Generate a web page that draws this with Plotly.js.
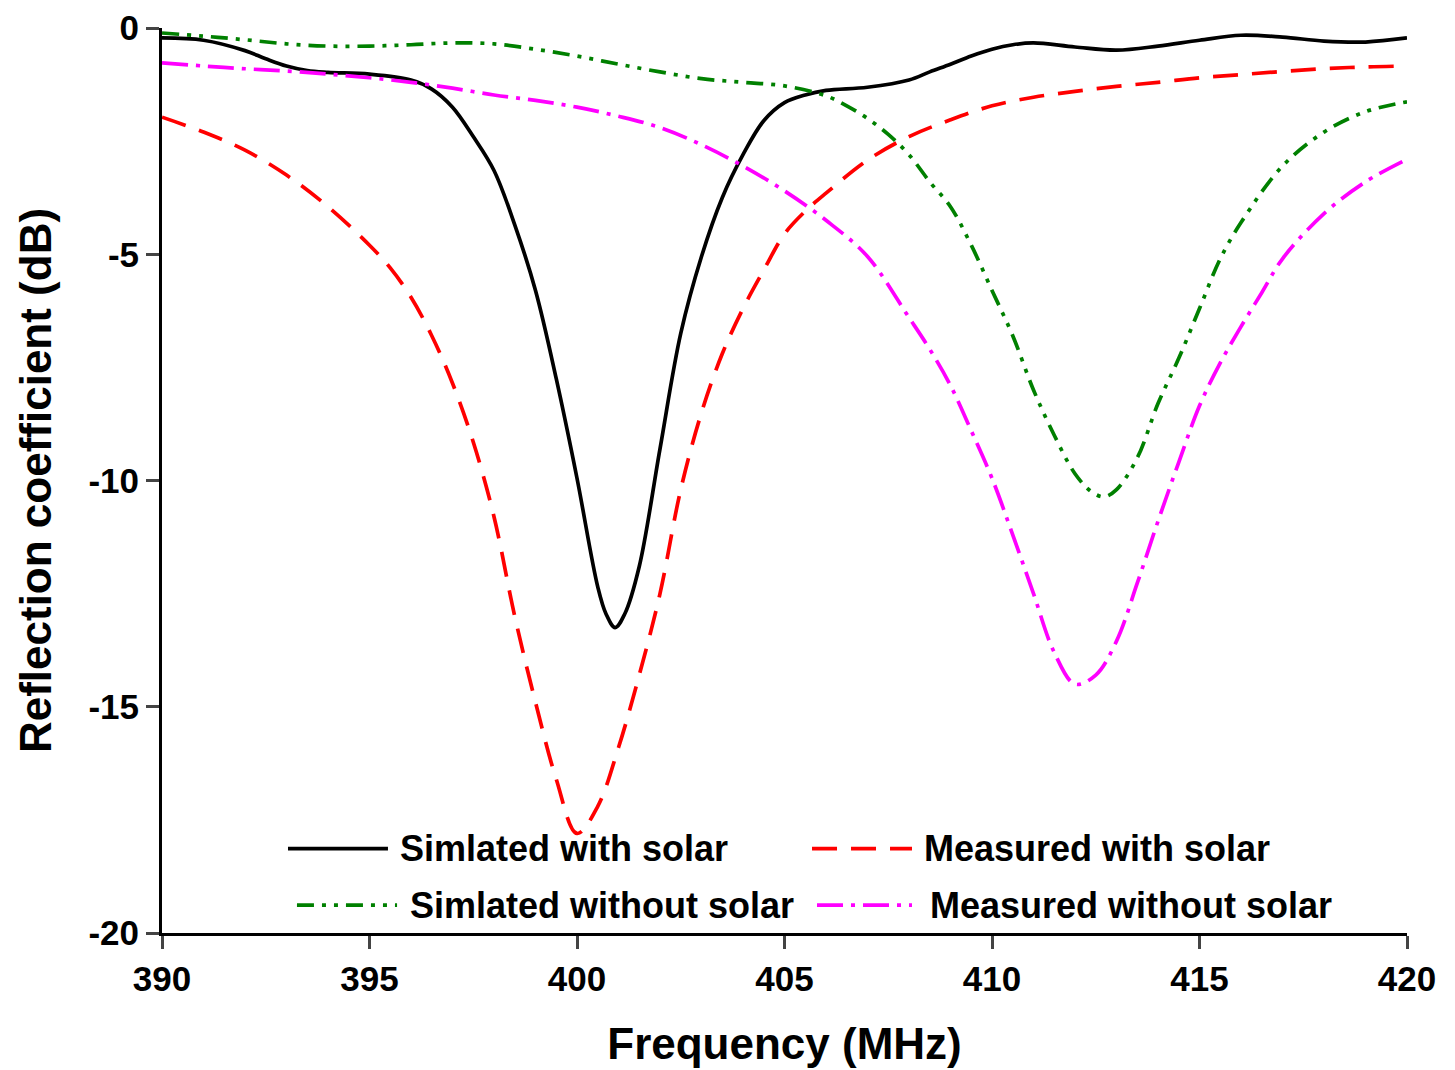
<!DOCTYPE html>
<html>
<head>
<meta charset="utf-8">
<script src="https://cdn.plot.ly/plotly-3.0.1.min.js"></script>
<style>html,body{margin:0;padding:0;background:#fff;}#chart{width:1455px;height:1070px;}</style>
</head>
<body>
<div id="chart"></div>
<script>
// Simulated with solar
const simWithX = [390,391,392,392.5,393,393.5,394,395,396,396.5,397,397.5,398,398.5,399,399.5,400,400.5,400.7,400.92,401.15,401.5,402,402.5,403,403.5,404,404.5,405,405.5,406,407,408,408.5,409,409.5,410,410.5,411,412,413,414,415,416,417,418,419,420];
const simWithY = [-0.22,-0.27,-0.5,-0.68,-0.84,-0.94,-0.98,-1.02,-1.15,-1.35,-1.75,-2.4,-3.15,-4.35,-5.8,-7.75,-9.95,-12.35,-12.95,-13.25,-12.95,-11.9,-9.3,-6.75,-5.05,-3.75,-2.8,-2.05,-1.65,-1.48,-1.38,-1.31,-1.15,-0.97,-0.8,-0.62,-0.47,-0.37,-0.33,-0.42,-0.49,-0.4,-0.27,-0.16,-0.2,-0.29,-0.31,-0.22];
// Measured with solar
const measWithX = [390,391,392,393,394,395,395.5,396,396.5,397,397.5,398,398.5,399,399.5,400,400.5,401,401.5,402,402.5,403,403.5,404,404.5,405,405.5,406,407,408,409,410,411,412,413,414,415,416,417,418,419,420];
const measWithY = [-1.97,-2.3,-2.7,-3.25,-3.95,-4.8,-5.3,-5.95,-6.8,-7.85,-9.15,-10.8,-13.0,-14.9,-16.6,-17.8,-17.2,-15.9,-14.3,-12.5,-10.2,-8.5,-7.2,-6.2,-5.35,-4.55,-4.05,-3.65,-2.92,-2.4,-2.03,-1.72,-1.53,-1.4,-1.29,-1.2,-1.1,-1.03,-0.96,-0.9,-0.86,-0.84];
// Simulated without solar
const simWoX = [390,391,392,393,394,395,396,397,398,399,400,401,402,403,404,405,406,406.5,407,407.5,408,408.5,409,409.5,410,410.5,411,411.5,412,412.4,412.7,413,413.5,414,414.5,415,415.5,416,417,418,419,420];
const simWoY = [-0.11,-0.18,-0.26,-0.35,-0.4,-0.4,-0.37,-0.33,-0.35,-0.47,-0.62,-0.8,-0.97,-1.12,-1.2,-1.28,-1.5,-1.72,-2.0,-2.35,-2.8,-3.4,-3.95,-4.8,-5.8,-6.8,-8.0,-9.0,-9.85,-10.25,-10.36,-10.2,-9.5,-8.3,-7.3,-6.2,-5.1,-4.3,-3.05,-2.3,-1.85,-1.63];
// Measured without solar
const measWoX = [390,391,392,393,394,395,396,397,398,399,400,401,402,403,404,405,406,407,408,408.5,409,409.5,410,410.5,411,411.5,412,412.5,413,413.5,414,414.5,415,415.5,416,416.5,417,418,419,420];
const measWoY = [-0.77,-0.84,-0.9,-0.95,-1.02,-1.1,-1.2,-1.33,-1.48,-1.6,-1.75,-1.95,-2.2,-2.58,-3.05,-3.6,-4.25,-5.05,-6.4,-7.1,-7.9,-8.9,-9.95,-11.2,-12.5,-13.8,-14.5,-14.3,-13.55,-12.27,-10.9,-9.6,-8.35,-7.4,-6.6,-5.85,-5.1,-4.1,-3.4,-2.9];

const seriesNames = ["Simlated with solar","Measured with solar","Simlated without solar","Measured without solar"];
const seriesColors = ["#000000","#ff0000","#008000","#ff00ff"];
const seriesDash = ["solid","25px,14px","17px,8px,4px,8px,4px,8px","26px,8px,4px,8px"];
const xTickVals = [390,395,400,405,410,415,420];
const yTickVals = [0,-5,-10,-15,-20];
const yTickText = ["0","-5","-10","-15","-20"];

const font = "Arial, 'Liberation Sans', sans-serif";
const xs = [simWithX, measWithX, simWoX, measWoX];
const ys = [simWithY, measWithY, simWoY, measWoY];
const traces = xs.map((x, i) => ({
  x: x, y: ys[i], name: seriesNames[i], mode: "lines", showlegend: false,
  line: {color: seriesColors[i], width: 3.7, shape: "spline", smoothing: 1, dash: seriesDash[i]}
}));

// Custom legend (two rows, two columns) in paper coordinates
const legendPos = [
  {x0: 0.1012, x1: 0.1815, tx: 0.1896, y: 0.0933},
  {x0: 0.5221, x1: 0.6024, tx: 0.6104, y: 0.0933},
  {x0: 0.1084, x1: 0.1888, tx: 0.1976, y: 0.0308},
  {x0: 0.5261, x1: 0.6024, tx: 0.6153, y: 0.0308}
];
const shapes = legendPos.map((p, i) => ({
  type: "line", xref: "paper", yref: "paper", x0: p.x0, x1: p.x1, y0: p.y, y1: p.y,
  line: {color: seriesColors[i], width: 3.7, dash: seriesDash[i]}
}));
const annotations = legendPos.map((p, i) => ({
  xref: "paper", yref: "paper", x: p.tx, y: p.y, xanchor: "left", yanchor: "middle",
  text: seriesNames[i], showarrow: false,
  font: {family: font, size: 36, color: "#000", weight: "bold"}
}));

const layout = {
  width: 1455, height: 1070,
  margin: {l: 162, r: 48, t: 28, b: 137},
  paper_bgcolor: "#fff", plot_bgcolor: "#fff",
  font: {family: font, color: "#000", size: 35, weight: "bold"},
  showlegend: false,
  shapes: shapes,
  annotations: annotations,
  xaxis: {
    range: [390, 420], tickvals: xTickVals, ticks: "outside", ticklen: 13, tickwidth: 3,
    showline: true, linewidth: 3, linecolor: "#000", showgrid: false, zeroline: false,
    tickfont: {family: font, size: 35, weight: "bold"},
    title: {text: "Frequency (MHz)", font: {family: font, size: 44, weight: "bold"}, standoff: 32}
  },
  yaxis: {
    range: [-20, 0], tickvals: yTickVals, ticktext: yTickText, ticks: "outside", ticklen: 13, tickwidth: 3,
    showline: true, linewidth: 3, linecolor: "#000", showgrid: false, zeroline: false,
    tickfont: {family: font, size: 35, weight: "bold"},
    title: {text: "Reflection coefficient (dB)", font: {family: font, size: 44, weight: "bold"}, standoff: 24}
  }
};

Plotly.newPlot("chart", traces, layout, {displayModeBar: false, staticPlot: true});
</script>
</body>
</html>
